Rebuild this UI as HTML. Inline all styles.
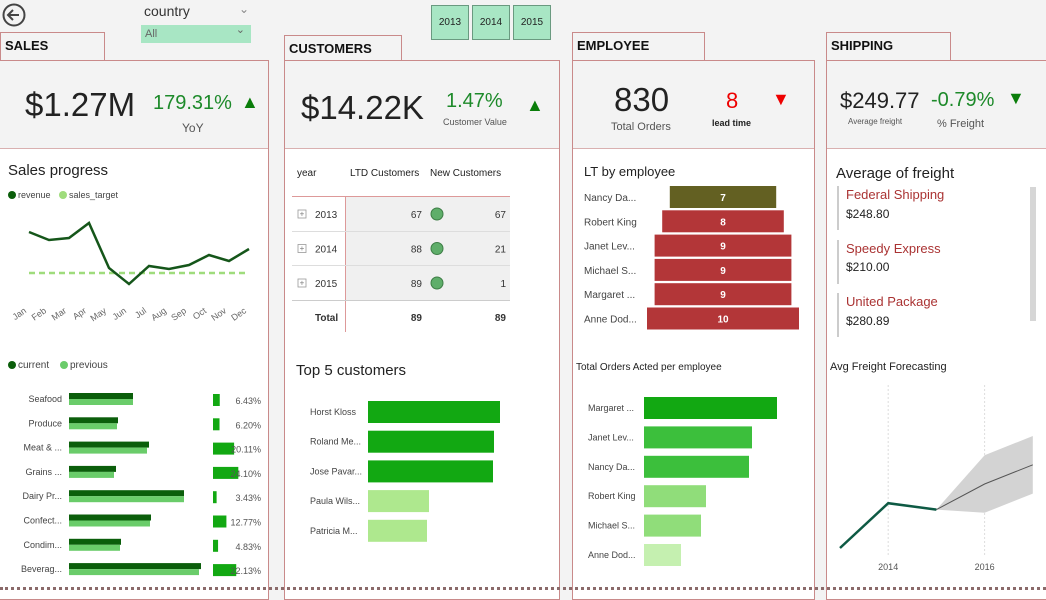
<!DOCTYPE html>
<html><head><meta charset="utf-8">
<style>
*{margin:0;padding:0;box-sizing:border-box}
body{width:1046px;height:591px;overflow:hidden;background:#f3f3f3;font-family:"Liberation Sans",sans-serif;color:#222;position:relative}
.a{position:absolute;white-space:nowrap}
.tab{position:absolute;border:1px solid #c98a8a;border-bottom:none;font-size:13px;font-weight:bold;padding:5px 4px;color:#111;background:#f3f3f3}
.panel{position:absolute;border:1px solid #c98a8a;background:#fff}
.kpi{position:absolute;left:0;right:0;top:0;height:88px;background:#f3f3f3;border-bottom:1px solid #d9b0b0}
.btn{position:absolute;top:5px;width:38px;height:35px;background:#a8e6c4;border:1px solid #6a9a80;font-size:10px;text-align:center;line-height:33px}
</style></head><body>
<svg class="a" style="left:2px;top:3px" width="26" height="26"><circle cx="12" cy="12" r="10.5" fill="none" stroke="#444" stroke-width="2"/><path d="M17 12H7M11 7l-5 5 5 5" fill="none" stroke="#444" stroke-width="2"/></svg>
<div class="a" style="left:144px;top:3px;font-size:14px;color:#333">country</div>
<div class="a" style="left:239px;top:2px;font-size:12px;color:#888">⌄</div>
<div class="a" style="left:141px;top:25px;width:110px;height:18px;background:#a8e6c4;font-size:11px;color:#666;padding:3px 4px">All<span style="position:absolute;right:6px;top:-2px">⌄</span></div>
<div class="btn" style="left:431px">2013</div>
<div class="btn" style="left:472px">2014</div>
<div class="btn" style="left:513px">2015</div>

<div class="tab" style="left:0;top:32px;width:105px;height:28px">SALES</div>
<div class="tab" style="left:284px;top:35px;width:118px;height:25px">CUSTOMERS</div>
<div class="tab" style="left:572px;top:32px;width:133px;height:28px">EMPLOYEE</div>
<div class="tab" style="left:826px;top:32px;width:125px;height:28px">SHIPPING</div>

<div class="panel" style="left:-1px;top:60px;width:270px;height:540px"><div class="kpi"></div></div>
<div class="panel" style="left:284px;top:60px;width:276px;height:540px"><div class="kpi"></div></div>
<div class="panel" style="left:572px;top:60px;width:243px;height:540px"><div class="kpi"></div></div>
<div class="panel" style="left:826px;top:60px;width:230px;height:540px"><div class="kpi"></div></div>
<div class="a" style="left:0;top:587px;width:1046px;border-top:3px dotted #8a6a6a"></div>

<!-- KPIs -->
<div class="a" style="left:25px;top:86px;font-size:33px">$1.27M</div>
<div class="a" style="left:153px;top:92px;font-size:20px;color:#1d8a2a">179.31%</div>
<div class="a" style="left:241px;top:92px;font-size:18px;color:#0a7d0a">▲</div>
<div class="a" style="left:182px;top:121px;font-size:12px;color:#555">YoY</div>

<div class="a" style="left:301px;top:89px;font-size:33px">$14.22K</div>
<div class="a" style="left:446px;top:90px;font-size:20px;color:#1d8a2a">1.47%</div>
<div class="a" style="left:443px;top:117px;font-size:9px;color:#555">Customer Value</div>
<div class="a" style="left:526px;top:95px;font-size:18px;color:#0a7d0a">▲</div>

<div class="a" style="left:614px;top:81px;font-size:33px">830</div>
<div class="a" style="left:611px;top:121px;font-size:11px;color:#555">Total Orders</div>
<div class="a" style="left:726px;top:88px;font-size:22px;color:#e00">8</div>
<div class="a" style="left:712px;top:118px;font-size:9px;font-weight:bold">lead time</div>
<div class="a" style="left:772px;top:89px;font-size:18px;color:#e00">▼</div>

<div class="a" style="left:840px;top:88px;font-size:22px">$249.77</div>
<div class="a" style="left:848px;top:117px;font-size:8px;color:#555">Average freight</div>
<div class="a" style="left:931px;top:89px;font-size:20px;color:#1d8a2a">-0.79%</div>
<div class="a" style="left:937px;top:118px;font-size:11px;color:#555">% Freight</div>
<div class="a" style="left:1007px;top:88px;font-size:18px;color:#0a7d0a">▼</div>

<!-- titles -->
<div class="a" style="left:8px;top:162px;font-size:15px">Sales progress</div>
<div class="a" style="left:296px;top:362px;font-size:15px">Top 5 customers</div>
<div class="a" style="left:584px;top:164px;font-size:13px">LT by employee</div>
<div class="a" style="left:576px;top:362px;font-size:10px">Total Orders Acted per employee</div>
<div class="a" style="left:836px;top:165px;font-size:15px">Average of freight</div>
<div class="a" style="left:830px;top:361px;font-size:11px">Avg Freight Forecasting</div>

<!-- freight cards -->
<div class="a" style="left:837px;top:186px;height:44px;border-left:2px solid #ccc"></div>
<div class="a" style="left:846px;top:187px;font-size:13px;color:#a33">Federal Shipping</div>
<div class="a" style="left:846px;top:207px;font-size:12px">$248.80</div>
<div class="a" style="left:837px;top:240px;height:44px;border-left:2px solid #ccc"></div>
<div class="a" style="left:846px;top:241px;font-size:13px;color:#a33">Speedy Express</div>
<div class="a" style="left:846px;top:260px;font-size:12px">$210.00</div>
<div class="a" style="left:837px;top:293px;height:44px;border-left:2px solid #ccc"></div>
<div class="a" style="left:846px;top:294px;font-size:13px;color:#a33">United Package</div>
<div class="a" style="left:846px;top:314px;font-size:12px">$280.89</div>
<div class="a" style="left:1030px;top:187px;width:6px;height:134px;background:#d6d6d6"></div>

<!-- customers table -->
<div class="a" style="left:297px;top:168px;font-size:10px">year</div>
<div class="a" style="left:350px;top:168px;font-size:10px">LTD Customers</div>
<div class="a" style="left:430px;top:168px;font-size:10px">New Customers</div>
<div class="a" style="left:292px;top:196px;width:218px;border-top:1px solid #d99"></div>
<div class="a" style="left:345px;top:197px;width:165px;height:103px;background:#f0f0f0"></div>
<div class="a" style="left:345px;top:196px;height:136px;border-left:1px solid #d99"></div>
<div class="a" style="left:292px;top:231px;width:218px;border-top:1px solid #ddd"></div>
<div class="a" style="left:292px;top:265px;width:218px;border-top:1px solid #ddd"></div>
<div class="a" style="left:292px;top:300px;width:218px;border-top:1px solid #ccc"></div>
<div id="tbl"></div>

<svg id="ch" class="a" style="left:0;top:0" width="1046" height="591"></svg>

<script>
const months=["Jan","Feb","Mar","Apr","May","Jun","Jul","Aug","Sep","Oct","Nov","Dec"];
const revenue=[136,120,124,154,64,32,68,62,70,90,78,102];
const salesTarget=[54,54,54,54,54,54,54,54,54,54,54,54];
const categories=["Seafood","Produce","Meat & ...","Grains ...","Dairy Pr...","Confect...","Condim...","Beverag..."];
const currentSales=[64,49,80,47,115,82,52,132];
const previousSales=[64,48,78,45,115,81,51,130];
const growthPct=[6.43,6.20,20.11,24.10,3.43,12.77,4.83,22.13];
const tblYears=["2013","2014","2015"];
const ltdCustomers=[67,88,89];
const newCustomers=[67,21,1];
const topCustomers=["Horst Kloss","Roland Me...","Jose Pavar...","Paula Wils...","Patricia M..."];
const topCustomerValues=[132,126,125,61,59];
const ltEmployees=["Nancy Da...","Robert King","Janet Lev...","Michael S...","Margaret ...","Anne Dod..."];
const ltValues=[7,8,9,9,9,10];
const orderEmployees=["Margaret ...","Janet Lev...","Nancy Da...","Robert King","Michael S...","Anne Dod..."];
const orderValues=[133,108,105,62,57,37];
const fcYears=[2013,2014,2015];
const fcActual=[248,262,260];
const fcForecastYears=[2015,2016,2017];
const fcForecast=[260,268,274];
const fcUpper=[260,277,283];
const fcLower=[260,259,265];

const NS="http://www.w3.org/2000/svg";
const svg=document.getElementById('ch');
function el(t,a,txt){const e=document.createElementNS(NS,t);for(const k in a)e.setAttribute(k,a[k]);if(txt!=null)e.textContent=txt;svg.appendChild(e);return e;}

// Sales progress
const spx=i=>29+i*20;
const spy=v=>300-v*0.5;
let e;
e=el('circle',{cx:12,cy:195,r:4,fill:'#0b5e0b'});
e=el('text',{x:18,y:198,'font-size':9,fill:'#444'},'revenue');
e=el('circle',{cx:63,cy:195,r:4,fill:'#9fdc7c'});
e=el('text',{x:69,y:198,'font-size':9,fill:'#444'},'sales_target');
e=el('polyline',{points:salesTarget.map((v,i)=>spx(i)+','+spy(v)).join(' '),fill:'none',stroke:'#9fdc7c','stroke-width':2.5,'stroke-dasharray':'6,4'});
e=el('polyline',{points:revenue.map((v,i)=>spx(i)+','+spy(v)).join(' '),fill:'none',stroke:'#15561a','stroke-width':2.5});
months.forEach((m,i)=>{e=el('text',{x:spx(i)-2,y:312,'font-size':9,fill:'#666','text-anchor':'end',transform:`rotate(-35 ${spx(i)-2} 312)`},m);});

// Category bars
e=el('circle',{cx:12,cy:365,r:4,fill:'#0b5e0b'});
e=el('text',{x:18,y:368,'font-size':10,fill:'#444'},'current');
e=el('circle',{cx:64,cy:365,r:4,fill:'#6acc6a'});
e=el('text',{x:70,y:368,'font-size':10,fill:'#444'},'previous');
const cw=v=>v;
categories.forEach((c,i)=>{const cy=399+i*24.3;
 e=el('text',{x:62,y:cy+3,'font-size':9,fill:'#444','text-anchor':'end'},c);
 e=el('rect',{x:69,y:cy-6,width:cw(currentSales[i]),height:6,fill:'#0b5e0b'});
 e=el('rect',{x:69,y:cy,width:cw(previousSales[i]),height:6,fill:'#6acc6a'});
 e=el('rect',{x:213,y:cy-5,width:growthPct[i]*1.05,height:12,fill:'#12a812'});
 e=el('text',{x:261,y:cy+5,'font-size':9,fill:'#555','text-anchor':'end'},growthPct[i].toFixed(2)+'%');
});

// Table
tblYears.forEach((y,i)=>{const cy=214+i*34.5;
 e=el('rect',{x:298,y:cy-4,width:8,height:8,fill:'none',stroke:'#999','stroke-width':0.8});
 e=el('text',{x:302,y:cy+2.5,'font-size':8,fill:'#777','text-anchor':'middle'},'+');
 e=el('text',{x:315,y:cy+4,'font-size':10,fill:'#333'},y);
 e=el('text',{x:422,y:cy+4,'font-size':10,fill:'#333','text-anchor':'end'},ltdCustomers[i]);
 e=el('circle',{cx:437,cy:cy,r:6,fill:'#5fae6a',stroke:'#3d7d45'});
 e=el('text',{x:506,y:cy+4,'font-size':10,fill:'#333','text-anchor':'end'},newCustomers[i]);
});
e=el('text',{x:315,y:321,'font-size':10,'font-weight':'bold',fill:'#333'},'Total');
e=el('text',{x:422,y:321,'font-size':10,'font-weight':'bold',fill:'#333','text-anchor':'end'},ltdCustomers[2]);
e=el('text',{x:506,y:321,'font-size':10,'font-weight':'bold',fill:'#333','text-anchor':'end'},newCustomers.reduce((a,b)=>a+b,0));

// Top customers
topCustomers.forEach((c,i)=>{const cy=412+i*29.7;
 e=el('text',{x:310,y:cy+3,'font-size':9,fill:'#444'},c);
 e=el('rect',{x:368,y:cy-11,width:topCustomerValues[i],height:22,fill:i<3?'#12a812':'#aee88e'});
});

// LT by employee (funnel)
ltEmployees.forEach((n,i)=>{const cy=197+i*24.3;const w=ltValues[i]*15.2;
 e=el('text',{x:584,y:cy+4,'font-size':10,fill:'#444'},n);
 e=el('rect',{x:723-w/2,y:cy-11,width:w,height:22,fill:i==0?'#636022':'#b33638'});
 e=el('text',{x:723,y:cy+4,'font-size':10,'font-weight':'bold',fill:'#fff','text-anchor':'middle'},ltValues[i]);
});

// Orders per employee
const oc=['#12a812','#3cbf3c','#3cbf3c','#90dd7a','#90dd7a','#c5f0b0'];
orderEmployees.forEach((n,i)=>{const cy=408+i*29.4;
 e=el('text',{x:588,y:cy+3,'font-size':9,fill:'#444'},n);
 e=el('rect',{x:644,y:cy-11,width:orderValues[i],height:22,fill:oc[i]});
});

// Forecast
const fx=y=>840+(y-2013)*48.2;
const fy=v=>548-(v-248)*3.2;
[2014,2016].forEach(y=>{e=el('line',{x1:fx(y),x2:fx(y),y1:385,y2:555,stroke:'#ddd','stroke-dasharray':'2,2'});
 e=el('text',{x:fx(y),y:570,'font-size':9,fill:'#555','text-anchor':'middle'},y);});
const band=fcForecastYears.map((y,i)=>fx(y)+','+fy(fcUpper[i])).concat(fcForecastYears.slice().reverse().map((y,j)=>{const i=fcForecastYears.length-1-j;return fx(y)+','+fy(fcLower[i]);}));
e=el('polygon',{points:band.join(' '),fill:'#d3d3d3'});
e=el('polyline',{points:fcForecastYears.map((y,i)=>fx(y)+','+fy(fcForecast[i])).join(' '),fill:'none',stroke:'#555','stroke-width':1});
e=el('polyline',{points:fcYears.map((y,i)=>fx(y)+','+fy(fcActual[i])).join(' '),fill:'none',stroke:'#0e5a44','stroke-width':2.5});
</script>
</body></html>
